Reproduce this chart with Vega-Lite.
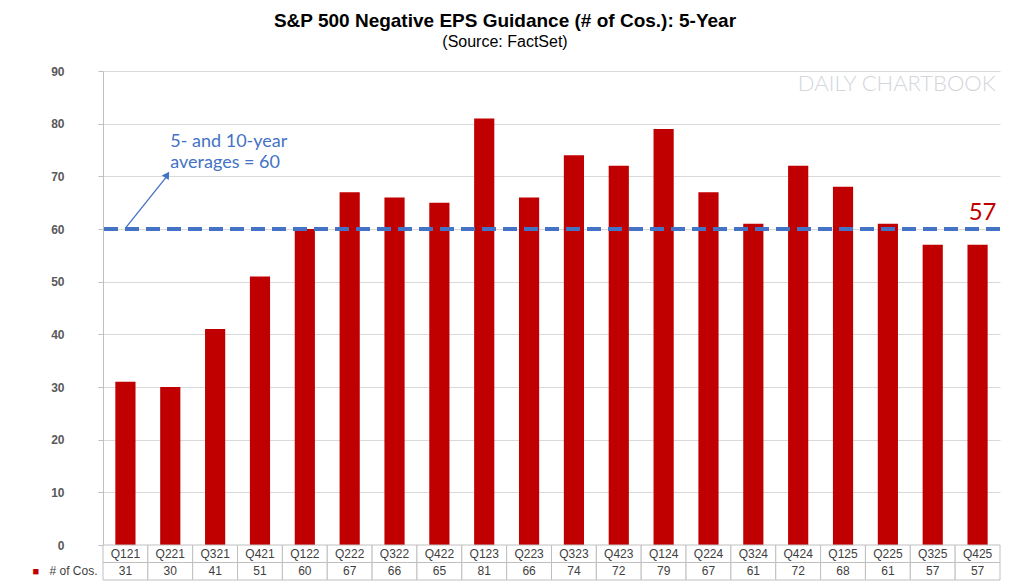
{
  "$schema": "https://vega.github.io/schema/vega-lite/v6.json",
  "padding": {"left": 8, "top": 12, "right": 10, "bottom": 0},
  "background": "white",
  "config": {"font": "Liberation Sans", "view": {"stroke": null}},
  "title": {
    "text": "S&P 500 Negative EPS Guidance (# of Cos.): 5-Year",
    "subtitle": "(Source: FactSet)",
    "fontSize": 19, "fontWeight": "bold", "color": "#000000",
    "subtitleFontSize": 16, "subtitleColor": "#000000", "subtitlePadding": 3,
    "anchor": "middle", "frame": "bounds", "offset": 15
  },
  "datasets": {
    "eps": [
      {"q": "Q121", "n": 31}, {"q": "Q221", "n": 30}, {"q": "Q321", "n": 41}, {"q": "Q421", "n": 51},
      {"q": "Q122", "n": 60}, {"q": "Q222", "n": 67}, {"q": "Q322", "n": 66}, {"q": "Q422", "n": 65},
      {"q": "Q123", "n": 81}, {"q": "Q223", "n": 66}, {"q": "Q323", "n": 74}, {"q": "Q423", "n": 72},
      {"q": "Q124", "n": 79}, {"q": "Q224", "n": 67}, {"q": "Q324", "n": 61}, {"q": "Q424", "n": 72},
      {"q": "Q125", "n": 68}, {"q": "Q225", "n": 61}, {"q": "Q325", "n": 57}, {"q": "Q425", "n": 57}
    ],
    "avg": [{"v": 60}],
    "arrow": [{"q1": "Q121", "q2": "Q221", "v1": 60.3, "v2": 70.0}],
    "head": [{"q": "Q221", "v": 70.3}],
    "note": [
      {"q": "Q221", "v": 76.5, "t": "5- and 10-year"},
      {"q": "Q221", "v": 72.5, "t": "averages = 60"}
    ],
    "last": [{"q": "Q425", "v": 63, "t": "57"}],
    "mark": [{"q": "Q425", "v": 87.5, "t": "DAILY CHARTBOOK"}]
  },
  "bounds": "flush",
  "vconcat": [
    {
      "width": 897,
      "height": 474,
      "layer": [
        {
          "data": {"name": "eps"},
          "mark": {"type": "bar", "color": "#C00000"},
          "encoding": {
            "x": {"field": "q", "type": "nominal", "sort": null, "title": null,
                  "scale": {"paddingInner": 0.55, "paddingOuter": 0.275}, "axis": null},
            "y": {"field": "n", "type": "quantitative", "title": null,
                  "scale": {"domain": [0, 90]},
                  "axis": {"values": [0, 10, 20, 30, 40, 50, 60, 70, 80, 90],
                           "grid": true, "gridColor": "#d9d9d9", "domainColor": "#bfbfbf",
                           "tickColor": "#bfbfbf", "tickSize": 5, "labelPadding": 34,
                           "labelFontSize": 12, "labelFontWeight": "bold", "labelColor": "#595959",
                           "minExtent": 95, "maxExtent": 95}}
          }
        },
        {
          "data": {"name": "avg"},
          "mark": {"type": "rule", "color": "#4472C4", "strokeWidth": 4, "strokeDash": [14, 7]},
          "encoding": {"y": {"field": "v", "type": "quantitative", "title": null}}
        },
        {
          "data": {"name": "arrow"},
          "mark": {"type": "rule", "color": "#4472C4", "strokeWidth": 1.3},
          "encoding": {
            "x": {"field": "q1", "type": "nominal", "sort": null, "bandPosition": 0.53, "title": null},
            "x2": {"field": "q2", "bandPosition": 0.33},
            "y": {"field": "v1", "type": "quantitative", "title": null},
            "y2": {"field": "v2"}
          }
        },
        {
          "data": {"name": "head"},
          "mark": {"type": "point", "shape": "triangle-up", "filled": true, "color": "#4472C4",
                   "opacity": 1, "size": 70, "angle": 33},
          "encoding": {
            "x": {"field": "q", "type": "nominal", "sort": null, "bandPosition": 0.35, "title": null},
            "y": {"field": "v", "type": "quantitative", "title": null}
          }
        },
        {
          "data": {"name": "note"},
          "mark": {"type": "text", "color": "#4472C4", "fontSize": 18, "font": "Lato",
                   "align": "left", "baseline": "middle"},
          "encoding": {
            "x": {"field": "q", "type": "nominal", "sort": null, "bandPosition": 0.5, "title": null},
            "y": {"field": "v", "type": "quantitative", "title": null},
            "text": {"field": "t"}
          }
        },
        {
          "data": {"name": "last"},
          "mark": {"type": "text", "color": "#C00000", "fontSize": 24, "font": "Lato",
                   "align": "center", "baseline": "middle", "dx": 5},
          "encoding": {
            "x": {"field": "q", "type": "nominal", "sort": null, "title": null},
            "y": {"field": "v", "type": "quantitative", "title": null},
            "text": {"field": "t"}
          }
        },
        {
          "data": {"name": "mark"},
          "mark": {"type": "text", "color": "#d3d6db", "fontSize": 22, "font": "Lato",
                   "fontWeight": 300, "align": "right", "baseline": "middle"},
          "encoding": {
            "x": {"field": "q", "type": "nominal", "sort": null, "bandPosition": 1.4, "title": null},
            "y": {"field": "v", "type": "quantitative", "title": null},
            "text": {"field": "t"}
          }
        }
      ]
    },
    {
      "width": 897,
      "height": 35,
      "data": {"name": "eps"},
      "encoding": {
        "x": {"field": "q", "type": "nominal", "sort": null, "title": null,
              "scale": {"paddingInner": 0, "paddingOuter": 0}, "axis": null}
      },
      "layer": [
        {
          "mark": {"type": "rect", "fill": "white", "stroke": "#bfbfbf", "strokeWidth": 1},
          "encoding": {
            "y": {"datum": "cat", "type": "nominal",
                  "scale": {"domain": ["cat", "val"], "paddingInner": 0, "paddingOuter": 0},
                  "axis": {"labelExpr": "datum.value == 'val' ? '# of Cos.' : ''",
                           "title": "■", "titleColor": "#C00000", "titleFontSize": 11,
                           "titleAngle": 0, "titleX": -71, "titleY": 26,
                           "titleAlign": "left", "titleBaseline": "middle",
                           "domain": false, "ticks": false, "labelFontSize": 12,
                           "labelColor": "#404040", "labelPadding": 6,
                           "minExtent": 95, "maxExtent": 95}}
          }
        },
        {
          "mark": {"type": "rect", "fill": "white", "stroke": "#bfbfbf", "strokeWidth": 1},
          "encoding": {"y": {"datum": "val", "type": "nominal", "title": null}}
        },
        {
          "mark": {"type": "text", "fontSize": 12, "color": "#404040"},
          "encoding": {"y": {"datum": "cat", "type": "nominal", "title": null}, "text": {"field": "q"}}
        },
        {
          "mark": {"type": "text", "fontSize": 12, "color": "#404040"},
          "encoding": {"y": {"datum": "val", "type": "nominal", "title": null}, "text": {"field": "n"}}
        }
      ]
    }
  ],
  "spacing": 0,
  "resolve": {"scale": {"x": "independent"}}
}
